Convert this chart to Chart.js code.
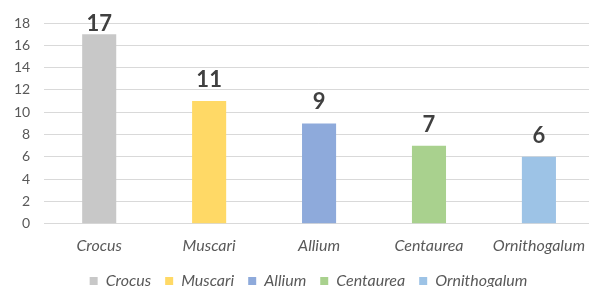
<!DOCTYPE html>
<html>
<head>
<meta charset="utf-8">
<script src="https://cdn.jsdelivr.net/npm/chart.js@4.4.0/dist/chart.umd.min.js"></script>
<style>
html,body{margin:0;padding:0;background:#fff;overflow:hidden;width:589px;height:287px;}
#wrap{width:597px;height:287px;position:relative;}
</style>
</head>
<body>
<div id="wrap"><canvas id="c"></canvas></div>
<script>
const categories = ["Crocus", "Muscari", "Allium", "Centaurea", "Ornithogalum"];
const values = [17, 11, 9, 7, 6];
const colors = ["#c8c8c8", "#ffd966", "#8eaadb", "#a9d18e", "#9dc3e6"];
const yTicks = [0, 2, 4, 6, 8, 10, 12, 14, 16, 18];

const FONT = 'Lato, "Open Sans", sans-serif';

const valueLabels = {
  id: 'valueLabels',
  afterDatasetsDraw(chart) {
    const ctx = chart.ctx;
    const meta = chart.getDatasetMeta(0);
    ctx.save();
    ctx.font = 'bold 22px ' + FONT;
    ctx.fillStyle = '#404040';
    ctx.textAlign = 'center';
    ctx.textBaseline = 'alphabetic';
    meta.data.forEach((bar, i) => {
      const base = Math.max(bar.y - 14, chart.chartArea.top + 8);
      ctx.fillText(String(values[i]), bar.x, base);
    });
    ctx.restore();
  }
};

const legendTighten = {
  id: 'legendTighten',
  afterInit(chart) {
    const lg = chart.legend;
    const origFit = lg.fit;
    lg.fit = function () { origFit.call(this); this.height -= 12; };
    const origDraw = lg.draw;
    lg.draw = function () {
      const ctx = this.ctx;
      ctx.save();
      ctx.translate(10, 0);
      origDraw.call(this);
      ctx.restore();
    };
  }
};

new Chart(document.getElementById('c'), {
  type: 'bar',
  data: {
    labels: categories,
    datasets: [{
      data: values,
      backgroundColor: colors,
      borderWidth: 0,
      categoryPercentage: 1.0,
      barPercentage: 0.31
    }]
  },
  options: {
    responsive: true,
    maintainAspectRatio: false,
    animation: false,
    layout: { padding: { top: 23, right: 0, left: 0, bottom: 0 } },
    plugins: {
      tooltip: { enabled: false },
      legend: {
        position: 'bottom',
        labels: {
          boxWidth: 8,
          boxHeight: 8,
          padding: 14,
          color: '#595959',
          font: { family: FONT, size: 16, style: 'italic' },
          generateLabels() {
            return categories.map((c, i) => ({
              text: c,
              fillStyle: colors[i],
              strokeStyle: colors[i],
              lineWidth: 0,
              fontColor: '#595959',
              index: i
            }));
          }
        }
      }
    },
    scales: {
      x: {
        grid: { display: false, drawTicks: false },
        border: { display: false },
        afterFit(axis) { axis.height -= 8; },
        ticks: {
          color: '#595959',
          padding: 12,
          font: { family: FONT, size: 16, style: 'italic' }
        }
      },
      y: {
        min: 0,
        max: 18,
        afterBuildTicks(axis) { axis.ticks = yTicks.map(v => ({ value: v })); },
        grid: { color: '#d9d9d9', lineWidth: 1, drawTicks: false },
        border: { display: false },
        ticks: {
          color: '#595959',
          padding: 14,
          font: { family: FONT, size: 14 }
        }
      }
    }
  },
  plugins: [valueLabels, legendTighten]
});
</script>
</body>
</html>
